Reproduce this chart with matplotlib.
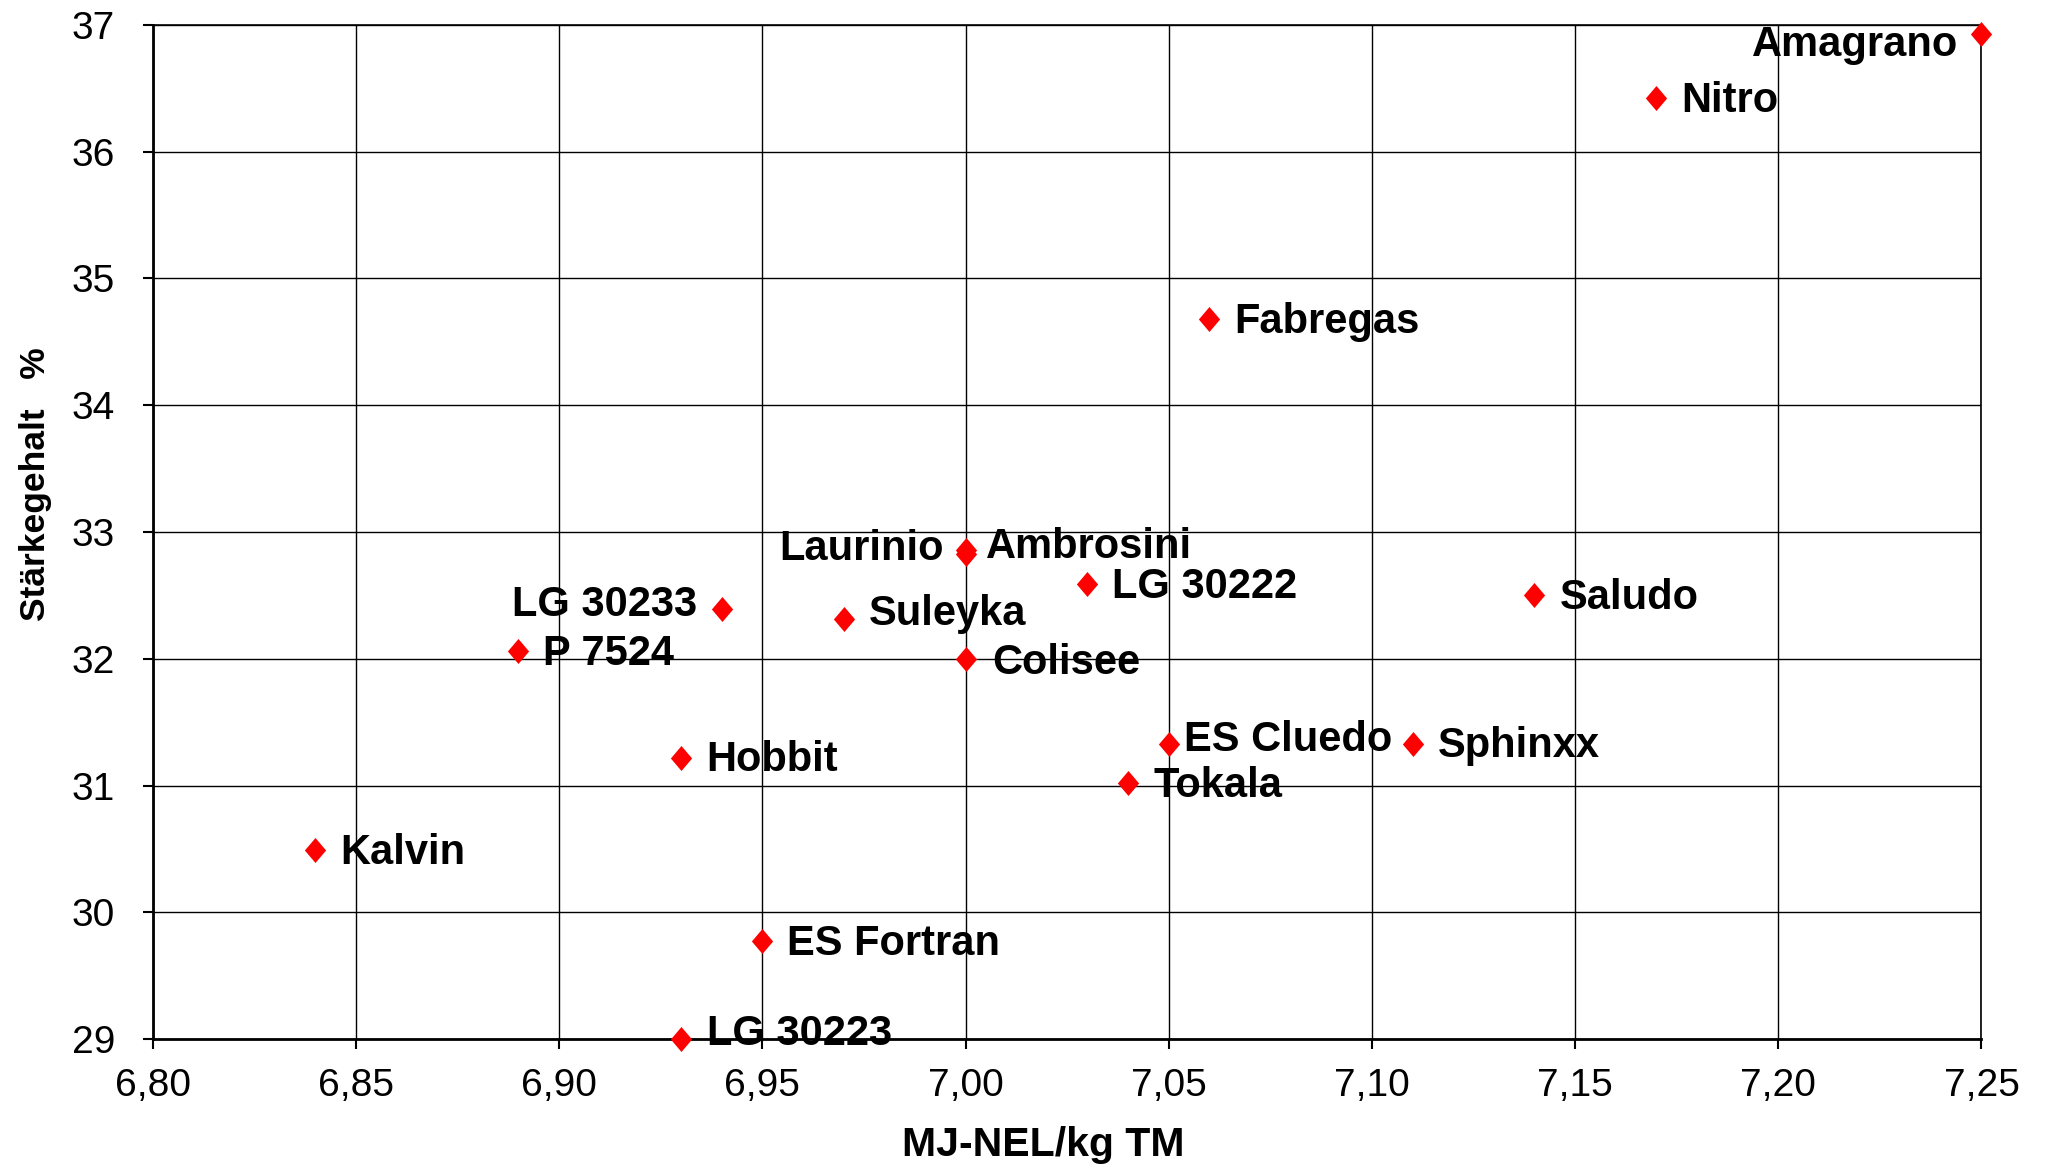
import matplotlib
matplotlib.use("Agg")
import matplotlib.pyplot as plt
from matplotlib.ticker import MultipleLocator, FuncFormatter

plt.rcParams['font.family'] = ['Liberation Sans', 'DejaVu Sans']

# ---- data ----
varieties = ["Amagrano", "Nitro", "Fabregas", "Laurinio", "Ambrosini", "LG 30222",
             "Saludo", "LG 30233", "Suleyka", "P 7524", "Colisee", "Hobbit",
             "ES Cluedo", "Sphinxx", "Tokala", "Kalvin", "ES Fortran", "LG 30223"]
energy = [7.25, 7.17, 7.06, 7.00, 7.00, 7.03,
          7.14, 6.94, 6.97, 6.89, 7.00, 6.93,
          7.05, 7.11, 7.04, 6.84, 6.95, 6.93]
starch = [36.93, 36.42, 34.68, 32.83, 32.86, 32.59,
          32.50, 32.39, 32.31, 32.06, 32.00, 31.22,
          31.33, 31.33, 31.02, 30.49, 29.77, 29.00]
x_label = "MJ-NEL/kg TM"
y_label = "Stärkegehalt   %"

# label placement (offset in points, horizontal alignment)
label_style = {
    "Amagrano": (-17, -8, "right"),
    "Laurinio": (-16, 3, "right"),
    "LG 30233": (-18, 3, "right"),
    "ES Cluedo": (11, 3, "left"),
    "Suleyka": (18, 4, "left"),
    "LG 30223": (19, 4, "left"),
    "Ambrosini": (15, 2, "left"),
    "Colisee": (19, -3, "left"),
}

fig = plt.figure(figsize=(20.47, 11.67), dpi=100)
ax = fig.add_axes([0.0746, 0.1096, 0.968 - 0.0746, 0.9787 - 0.1096])

diamond = [(0, 1), (0.85, 0), (0, -1), (-0.85, 0), (0, 1)]
ax.plot(energy, starch, linestyle='none', marker=diamond, markersize=18,
        color='#ff0000', markeredgewidth=0, clip_on=False, zorder=3)

for name, xv, yv in zip(varieties, energy, starch):
    dx, dy, ha = label_style.get(name, (18, -2, "left"))
    ax.annotate(name, (xv, yv), xytext=(dx, dy), textcoords='offset points',
                ha=ha, va='center', fontsize=30, fontweight='bold', color='black',
                zorder=4, annotation_clip=False)

ax.set_xlim(6.80, 7.25)
ax.set_ylim(29, 37)
ax.xaxis.set_major_locator(MultipleLocator(0.05))
ax.yaxis.set_major_locator(MultipleLocator(1))
ax.xaxis.set_major_formatter(FuncFormatter(lambda v, p: f"{v:.2f}".replace('.', ',')))
ax.yaxis.set_major_formatter(FuncFormatter(lambda v, p: f"{v:.0f}"))

ax.grid(True, color='black', linewidth=1.0)
ax.set_axisbelow(True)
ax.tick_params(axis='both', direction='out', length=7, width=1.5, labelsize=28, colors='black')
ax.tick_params(axis='y', pad=20)
ax.tick_params(axis='x', pad=14)
for side in ['left', 'bottom']:
    ax.spines[side].set_linewidth(2.0)
for side in ['top', 'right']:
    ax.spines[side].set_linewidth(1.2)

ax.set_xlabel(x_label, fontsize=29.5, fontweight='bold')
ax.set_ylabel(y_label, fontsize=25.5, fontweight='bold')
ax.yaxis.set_label_coords(-0.055, 0.547)
ax.xaxis.set_label_coords(0.487, -0.086)

fig.savefig("out.png", dpi=100)
